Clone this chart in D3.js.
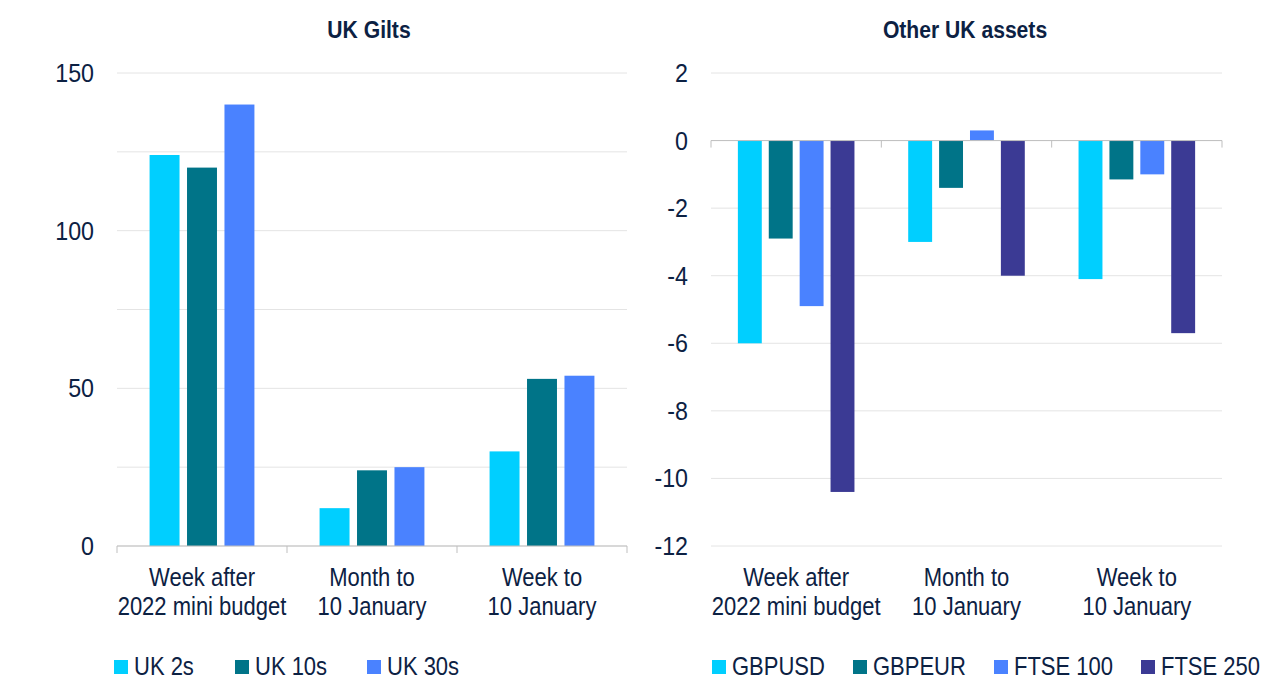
<!DOCTYPE html>
<html>
<head>
<meta charset="utf-8">
<script src="https://cdn.jsdelivr.net/npm/d3@7"></script>
<style>
  body { margin: 0; background: #fff; }
  text { font-family: "Liberation Sans Narrow", "Arial Narrow", "Liberation Sans", Arial, sans-serif; fill: #0c2143; }
</style>
</head>
<body>
<div id="viz"></div>
<script>
"use strict";

// periods shared by both panels
const periods = [["Week after", "2022 mini budget"], ["Month to", "10 January"], ["Week to", "10 January"]];

// UK Gilts (bp)
const giltSeries = ["UK 2s", "UK 10s", "UK 30s"];
const giltValues = [
    [124, 120, 140],
    [12, 24, 25],
    [30, 53, 54]
];
const giltTicks = [0, 50, 100, 150];
const giltGrid = [0, 25, 50, 75, 100, 125, 150];

// Other UK assets (%)
const assetSeries = ["GBPUSD", "GBPEUR", "FTSE 100", "FTSE 250"];
const assetValues = [
    [-6.0, -2.9, -4.9, -10.4],
    [-3.0, -1.4, 0.3, -4.0],
    [-4.1, -1.15, -1.0, -5.7]
];
const assetTicks = [2, 0, -2, -4, -6, -8, -10, -12];

const colors = ["#00cfff", "#007488", "#4a82ff", "#3b3a94"];

let svg = d3.select("#viz")
            .append("svg")
            .attr("width", 1280)
            .attr("height", 699);

// the original uses a condensed face; squeeze the fallback horizontally
const squeeze = (x, y, s) => `translate(${x},${y}) scale(${s},1)`;

function drawPanel(opt) {
    let g = svg.append("g");

    let x0 = d3.scaleBand()
               .domain(d3.range(periods.length))
               .range([opt.left, opt.right]);

    let x1 = d3.scaleBand()
               .domain(opt.series)
               .range([0, x0.bandwidth()])
               .paddingInner(opt.inner)
               .paddingOuter(0.87);

    let y = d3.scaleLinear()
              .domain(opt.domain)
              .range([546, 73]);

    // gridlines
    g.selectAll(".grid")
     .data(opt.grid)
     .enter()
     .append("line")
     .attr("x1", opt.left)
     .attr("x2", opt.right)
     .attr("y1", d => y(d))
     .attr("y2", d => y(d))
     .attr("stroke", "#e4e4e4")
     .attr("stroke-width", 1);

    // y labels
    g.selectAll(".ylab")
     .data(opt.ticks)
     .enter()
     .append("text")
     .attr("transform", d => squeeze(opt.left - 23, y(d) + 9, 0.93))
     .attr("text-anchor", "end")
     .attr("font-size", "25px")
     .text(d => d);

    // bars
    let groups = g.selectAll(".grp")
                  .data(opt.values)
                  .enter()
                  .append("g")
                  .attr("transform", (d, i) => `translate(${x0(i)},0)`);

    groups.selectAll("rect")
          .data(d => d.map((v, j) => ({ v: v, s: opt.series[j], j: j })))
          .enter()
          .append("rect")
          .attr("x", d => x1(d.s))
          .attr("width", x1.bandwidth())
          .attr("y", d => y(Math.max(0, d.v)))
          .attr("height", d => Math.abs(y(d.v) - y(0)))
          .attr("fill", d => colors[d.j]);

    // x axis line at zero with ticks
    let axisY = y(0);
    g.append("line")
     .attr("x1", opt.left)
     .attr("x2", opt.right)
     .attr("y1", axisY)
     .attr("y2", axisY)
     .attr("stroke", "#bfbfbf")
     .attr("stroke-width", 1);

    let tickXs = d3.range(periods.length + 1).map(i => i < periods.length ? x0(i) : opt.right);
    g.selectAll(".xtick")
     .data(tickXs)
     .enter()
     .append("line")
     .attr("x1", d => d)
     .attr("x2", d => d)
     .attr("y1", axisY)
     .attr("y2", axisY + 7)
     .attr("stroke", "#bfbfbf")
     .attr("stroke-width", 1);

    // category labels, two lines each
    [0, 1].forEach(line => {
        g.selectAll(".xlab" + line)
         .data(periods)
         .enter()
         .append("text")
         .attr("transform", (d, i) => squeeze(x0(i) + x0.bandwidth() / 2, 586 + line * 29, 0.88))
         .attr("text-anchor", "middle")
         .attr("font-size", "25px")
         .text(d => d[line]);
    });

    // title
    g.append("text")
     .attr("transform", squeeze(opt.titleX, 38, 0.88))
     .attr("text-anchor", "middle")
     .attr("font-size", "24px")
     .attr("font-weight", "bold")
     .text(opt.title);

    // legend
    let leg = g.selectAll(".leg")
               .data(opt.series)
               .enter()
               .append("g")
               .attr("transform", (d, i) => `translate(${opt.legendX[i]},0)`);
    leg.append("rect")
       .attr("x", 0)
       .attr("y", 660)
       .attr("width", 14)
       .attr("height", 14)
       .attr("fill", (d, i) => colors[i]);
    leg.append("text")
       .attr("transform", squeeze(20, 675, 0.88))
       .attr("font-size", "25px")
       .text(d => d);
}

drawPanel({
    title: "UK Gilts",
    titleX: 369,
    left: 117,
    right: 627,
    series: giltSeries,
    values: giltValues,
    domain: [0, 150],
    ticks: giltTicks,
    grid: giltGrid,
    inner: 0.2,
    legendX: [114, 235, 367]
});

drawPanel({
    title: "Other UK assets",
    titleX: 965,
    left: 711,
    right: 1222,
    series: assetSeries,
    values: assetValues,
    domain: [-12, 2],
    ticks: assetTicks,
    grid: assetTicks,
    inner: 0.226,
    legendX: [712, 853, 994, 1141]
});
</script>
</body>
</html>
